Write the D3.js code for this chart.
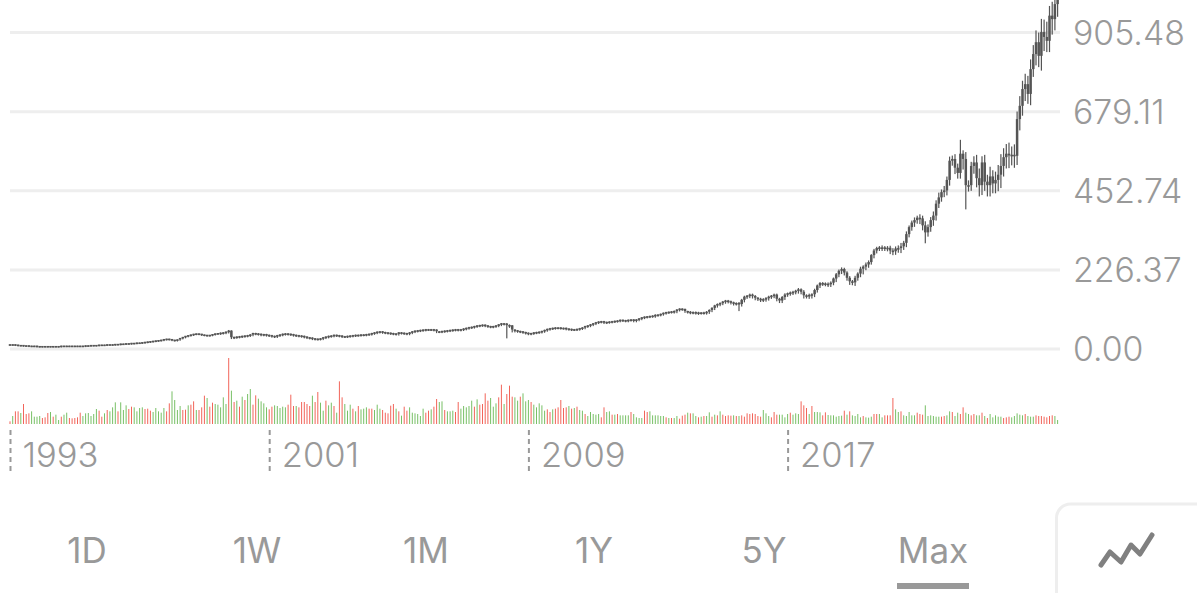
<!DOCTYPE html>
<html>
<head>
<meta charset="utf-8">
<script src="https://cdn.jsdelivr.net/npm/d3@7"></script>
<style>
html, body { margin: 0; padding: 0; background: #fff; overflow: hidden; }
text { font-family: Inter, "Open Sans", sans-serif; fill: #999; }
</style>
</head>
<body>
<div id="svg-container"></div>
<script>
// Monthly values, month 0 = Jan 1993

var closes = [
    10,10,9,8,8,7,7,6,6,6,
    5,5,5,5,5,5,5,5,5,6,
    6,6,6,6,6,6,6,6,7,7,
    8,8,8,9,9,9,10,10,10,11,
    11,12,12,13,13,14,14,15,15,16,
    17,18,19,20,21,22,23,25,26,25,
    23,22,24,28,31,34,36,38,40,41,
    40,38,37,36,37,39,41,42,43,44,
    46,49,30,31,32,33,34,35,36,38,
    42,41,40,38,39,37,36,34,33,36,
    38,40,41,40,39,37,36,35,34,32,
    30,29,27,26,26,27,30,32,34,35,
    37,36,35,33,33,34,35,36,37,37,
    38,38,39,40,42,44,46,47,45,44,
    43,42,41,40,44,43,42,41,44,47,
    49,50,51,52,53,53,53,52,47,47,
    48,49,50,51,52,53,52,53,55,57,
    59,60,62,64,65,66,64,62,61,62,
    64,67,70,69,65,64,52,50,48,47,
    45,43,41,42,44,45,46,48,51,54,
    56,57,58,58,57,57,55,54,53,53,
    54,56,58,62,64,67,70,73,75,76,
    73,74,75,76,77,78,80,79,78,80,
    81,78,81,84,87,89,90,91,92,94,
    95,97,100,102,103,104,105,109,112,111,
    105,103,102,102,101,100,101,101,103,108,
    114,121,125,128,132,135,133,130,127,128,
    125,137,146,149,152,148,143,140,138,139,
    142,146,149,152,140,135,145,152,156,158,
    160,163,167,160,150,148,151,153,165,178,
    185,184,183,182,186,198,210,220,225,215,
    200,190,187,200,212,226,232,238,245,265,
    278,285,287,287,285,286,278,276,284,285,
    290,300,325,345,358,365,372,370,350,330,
    345,365,378,412,430,445,450,480,535,540,
    515,500,555,540,465,465,520,530,485,465,
    530,475,465,490,470,480,495,520,545,555,
    550,552,549,654,692,740,754,726,797,840,
    874,835,903,889,878,950,940,983,1010
];

var wickHigh = [
    2,2,2,2,2,2,2,2,2,2, 2,2,2,2,2,2,2,2,2,2,
    2,2,2,2,2,2,2,2,2,2, 2,2,2,2,2,2,2,2,2,2,
    2,2,2,2,2,2,2,2,2,2, 2,2,2,2,2,2,2,2,2,2,
    2,2,2,2,2,2,2,2,2,2, 2,2,2,2,2,2,2,2,3,3,
    3,4,3,3,3,3,3,3,3,3, 3,3,3,3,3,3,3,3,3,3,
    3,3,3,3,3,3,3,3,3,3, 3,3,3,3,3,3,3,3,3,3,
    3,3,3,3,3,3,3,3,3,3, 3,3,3,3,3,3,3,3,3,3,
    3,3,3,3,3,3,3,3,3,3, 3,3,3,3,3,3,3,3,3,3,
    3,3,3,3,3,3,3,3,3,3, 3,3,3,3,3,3,3,3,3,3,
    3,3,3,3,4,4,3,3,3,3, 3,3,3,3,3,3,3,3,3,3,
    3,3,3,3,3,3,3,3,3,3, 3,3,3,3,3,3,3,3,3,3,
    3,3,3,3,3,3,3,3,3,3, 3,3,3,3,3,3,3,3,3,4,
    3,3,3,3,3,3,4,4,3,3, 3,3,4,4,4,4,3,4,4,4,
    4,4,4,4,4,4,4,4,4,4, 5,5,5,4,5,5,5,4,5,5,
    5,5,4,5,5,5,5,6,4,5, 5,5,6,5,7,5,6,5,6,5,
    5,5,5,6,6,5,6,6,7,6, 6,7,6,8,6,8,6,8,7,5,
    7,6,6,8,6,7,8,9,8,10, 12,8,10,7,8,10,8,12,10,14,
    10,11,14,12,16,10,15,12,14,12, 16,14,42,12,22,16,14,20,24,30,
    20,24,22,30,20,26,30,36,28,30, 34,26,32,24,30,26,32,26,30,28,
    36,30,40,38,46,30,42,36,44
];

var wickLow = [
    2,2,2,2,2,2,2,2,2,2, 2,2,2,2,2,2,2,2,2,2,
    2,2,2,2,2,2,2,2,2,2, 2,2,2,2,2,2,2,2,2,2,
    2,2,2,2,2,2,2,2,2,2, 2,2,2,2,2,2,2,2,2,2,
    2,2,2,2,2,2,2,2,2,2, 2,2,2,2,2,2,2,2,3,3,
    3,3,3,3,3,3,3,3,3,3, 3,3,3,3,3,3,3,3,3,3,
    3,3,3,3,3,3,3,3,3,3, 3,3,3,3,3,3,3,3,3,3,
    3,3,3,3,3,3,3,3,3,3, 3,3,3,3,3,3,3,3,3,3,
    3,3,3,3,3,3,3,3,3,3, 3,3,3,3,3,3,3,3,3,3,
    3,3,3,3,3,3,3,3,3,3, 3,3,3,3,3,3,3,3,3,3,
    3,3,3,3,36,5,6,4,3,3, 3,3,3,3,3,3,3,3,3,3,
    3,3,3,3,3,3,3,3,3,3, 3,3,3,3,3,3,3,3,3,3,
    3,3,3,3,3,3,3,3,3,3, 3,3,3,3,3,3,3,3,3,4,
    3,3,3,3,3,3,4,4,3,3, 3,3,4,4,4,4,3,4,4,4,
    4,4,4,4,4,4,4,4,4,4, 18,5,5,4,5,5,5,4,5,5,
    5,5,4,5,5,5,5,6,4,5, 5,5,6,5,7,5,6,8,6,5,
    5,5,5,6,6,5,8,6,7,6, 6,8,6,8,6,8,14,8,7,5,
    7,6,6,8,6,7,8,9,8,10, 12,8,10,7,8,10,8,14,12,29,
    10,11,14,12,10,10,12,12,14,12, 16,14,14,28,67,16,14,20,24,30,
    26,24,30,30,26,26,30,36,28,30, 34,26,32,24,30,26,32,26,30,20,
    30,30,40,38,30,30,42,30,34
];

var volumes = [
    8,24,38,38,33,60,30,32,38,22,
    22,24,18,20,33,36,22,28,12,22,
    28,34,18,17,18,20,34,24,32,33,
    24,30,45,40,22,32,42,38,50,65,
    38,65,42,56,45,52,50,38,48,50,
    45,46,40,36,48,38,34,48,38,62,
    98,72,42,54,42,43,56,58,68,42,
    42,50,85,78,52,64,60,58,50,80,
    60,198,100,66,70,52,82,72,90,105,
    58,86,76,68,62,50,44,52,56,54,
    48,52,50,58,88,54,54,50,66,66,
    60,54,85,66,96,64,40,70,56,64,
    54,34,128,80,60,40,58,46,38,54,
    44,46,50,46,46,42,58,46,42,34,
    32,55,60,46,38,25,52,40,50,34,
    32,30,24,46,34,40,44,52,75,66,
    68,42,38,38,40,36,66,46,54,50,
    54,70,52,74,58,60,92,70,78,52,
    62,80,118,60,90,115,82,80,70,82,
    92,68,72,66,58,50,62,56,40,44,
    36,44,46,50,72,48,50,54,46,48,
    52,42,40,30,24,36,30,28,30,20,
    50,36,38,28,28,30,26,26,26,26,
    36,30,20,18,18,40,36,38,26,26,
    26,24,24,20,18,18,18,24,16,25,
    28,34,32,32,24,20,22,24,24,35,
    22,28,26,38,28,24,26,25,26,24,
    24,26,22,32,30,32,30,24,22,42,
    32,24,20,36,28,28,28,20,30,34,
    28,32,30,68,56,48,30,54,36,36,
    35,26,35,27,26,26,22,24,25,40,
    28,38,26,24,30,20,24,20,19,22,
    30,30,30,20,26,26,26,78,44,36,
    38,26,24,36,26,26,34,30,28,56,
    24,26,24,22,22,22,24,26,38,36,
    24,34,30,50,34,30,26,30,26,26,
    34,24,18,30,20,26,22,22,18,20,
    22,20,24,32,28,26,30,24,22,22,
    26,24,24,22,20,24,26,24,12
];

// g = green month, r = red month, same order as volumes
var volumeColors = (
    "rgrrgrrrgg" + "ggrrrgrggr" + "ggrrrrrggg" + "gggrrgrggg" + "rgggrrgggg" +
    "rrrgggggrr" + "ggggrrgrrg" + "rrrgrrgggg" + "grgrgrgrgg" + "rrggggrrgg" +
    "gggrrrgrrr" + "rrgrrggrgg" + "rgrrgggrgr" + "gggrrgggrr" + "rrrg" +
    "rgrrgggggg" + "rrgrrggrgg" + "grrgggggrg" + "rrrrgggrrg" + "rrrggrgggr" +
    "gggggrrgrr" + "rrrgrgrggr" + "gggggrrggr" + "grggggrggg" + "grrggggggr" +
    "grggrrrgrg" + "grgrggrgrg" + "rrrrgrgrrr" + "rrrrrgggrr" + "rggggrgg" +
    "grrrgrgggr" + "rggggggrgr" + "ggggrgggrr" + "ggrrrrggrg" + "ggggrrrggg" +
    "gggrrggrgg" + "rrggrrggrg" + "rgggggrrrg" + "ggggrgggrr" + "rrrrrgg"
).split("");

var priceTicks = [0, 226.37, 452.74, 679.11, 905.48];
var yearTicks = [0, 96, 192, 288];
var yearLabels = ["1993", "2001", "2009", "2017"];
var tabLabels = ["1D", "1W", "1M", "1Y", "5Y", "Max"];
var tabCenters = [87, 257, 426, 594, 764, 933];

var width = 1197,
    height = 593;

var svg = d3.select("#svg-container")
    .append("svg")
    .attr("width", width)
    .attr("height", height)
    .style("display", "block");

var months = d3.range(closes.length);

var x = d3.scaleLinear().domain([0, 388]).range([10, 1057.6]);
var y = d3.scaleLinear().domain([0, 905.48]).range([348.5, 32]);
var v = d3.scaleLinear().domain([0, 198]).range([424, 358]);

// Price grid and labels

var priceAxis = d3.axisRight(y)
    .tickValues(priceTicks)
    .tickFormat(d3.format(".2f"))
    .tickSize(-1050)
    .tickPadding(13);

var priceGroup = svg.append("g")
    .attr("transform", "translate(1060,0)")
    .call(priceAxis);

priceGroup.select(".domain").remove();
priceGroup.selectAll("line").attr("stroke", "#eeeeee").attr("stroke-width", 3);
priceGroup.selectAll("text")
    .attr("font-size", 33.8)
    .style("font-weight", 300)
    .attr("dy", "0.36em");

// Candles, open is the close of the month before

function openOf(i) { return i === 0 ? closes[0] : closes[i - 1]; }

var candles = svg.append("g").attr("fill", "#555555").attr("stroke", "none");

candles.selectAll("rect.wick")
    .data(months)
    .enter().append("rect")
    .attr("class", "wick")
    .attr("x", function(d) { return x(d) - 0.6; })
    .attr("width", 1.2)
    .attr("y", function(d) { return y(Math.max(openOf(d), closes[d]) + wickHigh[d]); })
    .attr("height", function(d) {
        return y(Math.min(openOf(d), closes[d]) - wickLow[d]) - y(Math.max(openOf(d), closes[d]) + wickHigh[d]);
    });

candles.selectAll("rect.body")
    .data(months)
    .enter().append("rect")
    .attr("class", "body")
    .attr("x", function(d) { return x(d) - 1.25; })
    .attr("width", 2.5)
    .attr("y", function(d) { return y(Math.max(openOf(d), closes[d])) - 0.8; })
    .attr("height", function(d) {
        return Math.max(1.6, y(Math.min(openOf(d), closes[d])) - y(Math.max(openOf(d), closes[d])));
    });

// Volume bars

svg.append("g").selectAll("rect")
    .data(volumes)
    .enter().append("rect")
    .attr("x", function(d, i) { return x(i) - 0.5; })
    .attr("width", 1)
    .attr("y", function(d) { return v(d); })
    .attr("height", function(d) { return v(0) - v(d); })
    .attr("fill", function(d, i) { return volumeColors[i] === "g" ? "#78c066" : "#f2655a"; });

// Year ticks

var yearAxis = d3.axisBottom(x)
    .tickValues(yearTicks)
    .tickFormat(function(d, i) { return yearLabels[i]; })
    .tickSize(42);

var yearGroup = svg.append("g")
    .attr("transform", "translate(0,430)")
    .call(yearAxis);

yearGroup.select(".domain").remove();
yearGroup.selectAll("line")
    .attr("stroke", "#999999")
    .attr("stroke-width", 2)
    .attr("stroke-dasharray", "5,4");
yearGroup.selectAll("text")
    .attr("x", 12)
    .attr("y", 37)
    .attr("dy", 0)
    .attr("font-size", 34.5)
    .style("font-weight", 300)
    .attr("text-anchor", "start");

// Range tabs

svg.append("g").selectAll("text")
    .data(tabLabels)
    .enter().append("text")
    .attr("x", function(d, i) { return tabCenters[i]; })
    .attr("y", 563)
    .attr("font-size", 35)
    .style("font-weight", 400)
    .attr("text-anchor", "middle")
    .text(function(d) { return d; });

svg.append("rect")
    .attr("x", 897).attr("y", 583)
    .attr("width", 72).attr("height", 6)
    .attr("fill", "#999999");

// Chart type toggle

svg.append("rect")
    .attr("x", 1056.5).attr("y", 504)
    .attr("width", 160).attr("height", 120)
    .attr("rx", 14)
    .attr("fill", "none")
    .attr("stroke", "#eeeeee")
    .attr("stroke-width", 3);

svg.append("polyline")
    .attr("points", "1101,565 1110,552 1121,562 1131,545 1140,554 1152,535")
    .attr("fill", "none")
    .attr("stroke", "#808080")
    .attr("stroke-width", 5)
    .attr("stroke-linecap", "round")
    .attr("stroke-linejoin", "round");
</script>
</body>
</html>
